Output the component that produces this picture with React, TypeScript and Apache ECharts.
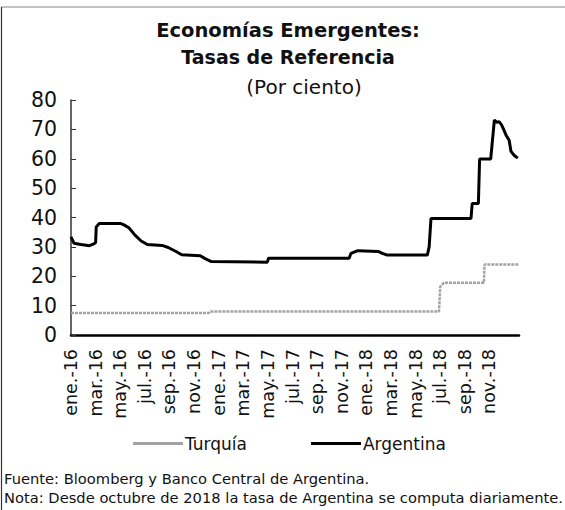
import React, { useEffect, useRef } from "react";
import * as echarts from "echarts";

// Month index: 0 = ene.-16, 1 = feb.-16, ...
const monthLabels = [
  "ene.-16", "mar.-16", "may.-16", "jul.-16", "sep.-16", "nov.-16",
  "ene.-17", "mar.-17", "may.-17", "jul.-17", "sep.-17", "nov.-17",
  "ene.-18", "mar.-18", "may.-18", "jul.-18", "sep.-18", "nov.-18",
];

const argentinaMonths = [
  0, 0.25, 0.8, 1.5, 1.85, 2.0, 2.05, 2.3, 4.0, 4.3, 4.7, 5.2, 5.7, 6.2, 7.4,
  7.9, 8.5, 9.0, 10.5, 10.9, 11.4, 15.95, 16.05, 22.6, 22.75, 23.3, 25.0, 25.3,
  25.7, 28.95, 29.1, 29.25, 32.5, 32.6, 33.1, 33.2, 34.1, 34.4, 34.6, 34.8,
  35.0, 35.15, 35.35, 35.6, 35.75, 36.0, 36.3,
];
const argentinaValues = [
  33.4, 31.2, 30.8, 30.4, 31.0, 31.5, 36.8, 38.0, 38.0, 37.5, 36.5, 34.0, 32.0,
  30.8, 30.5, 29.8, 28.5, 27.3, 27.0, 26.0, 25.0, 24.8, 26.1, 26.1, 27.8, 28.7,
  28.4, 27.8, 27.2, 27.2, 30.0, 39.7, 39.7, 44.8, 44.8, 59.9, 59.9, 73.2, 72.4,
  72.6, 71.4, 70.0, 68.0, 66.3, 62.5, 61.2, 60.2,
];

const turquiaMonths = [0, 11.2, 11.3, 29.9, 30.0, 30.3, 33.55, 33.6, 36.4];
const turquiaValues = [7.5, 7.5, 8.0, 8.0, 16.5, 17.75, 17.75, 24.0, 24.0];

const yTicks = [0, 10, 20, 30, 40, 50, 60, 70, 80];

const FONT = "DejaVu Sans";
const TUR_COLOR = "#a3a3a3";

export default function App() {
  const ref = useRef<HTMLDivElement>(null);

  useEffect(() => {
    if (!ref.current) return;
    const chart = echarts.init(ref.current, undefined, { renderer: "svg" });
    const arg = argentinaMonths.map((m, i) => [m, argentinaValues[i]]);
    const tur = turquiaMonths.map((m, i) => [m, turquiaValues[i]]);
    chart.setOption({
      animation: false,
      backgroundColor: "#ffffff",
      textStyle: { fontFamily: FONT },
      legend: {
        left: 128,
        top: 430,
        itemWidth: 50,
        itemHeight: 3,
        itemGap: 64,
        data: [
          { name: "Turquía", icon: "rect", itemStyle: { color: TUR_COLOR } },
          { name: "Argentina", icon: "rect", itemStyle: { color: "#000" } },
        ],
        textStyle: { fontFamily: FONT, fontSize: 17, color: "#111", padding: [0, 0, 0, -3] },
      },
      grid: { left: 71, right: 46, top: 100, bottom: 175, containLabel: false },
      xAxis: {
        type: "value",
        min: 0,
        max: 36.4,
        interval: 2,
        splitLine: { show: false },
        axisLine: { show: true, onZero: false, lineStyle: { color: "#000", width: 2.5 } },
        axisTick: { show: false },
        axisLabel: {
          rotate: 90,
          fontFamily: FONT,
          fontSize: 17.5,
          color: "#111",
          margin: 14,
          showMaxLabel: false,
          formatter: (v: number) => {
            const idx = Math.round(v / 2);
            return idx >= 0 && idx < monthLabels.length ? monthLabels[idx] : "";
          },
        },
      },
      yAxis: {
        type: "value",
        min: yTicks[0],
        max: yTicks[yTicks.length - 1],
        interval: 10,
        splitLine: { show: false },
        axisLine: { show: true, lineStyle: { color: "#333", width: 1.5 } },
        axisTick: { show: true, inside: true, length: 5, lineStyle: { color: "#333" } },
        axisLabel: { fontFamily: FONT, fontSize: 20.5, color: "#111", margin: 14 },
      },
      series: [
        {
          name: "Turquía",
          type: "line",
          data: tur,
          symbol: "none",
          lineStyle: { color: TUR_COLOR, width: 2.5, type: [3, 1] },
          itemStyle: { color: TUR_COLOR },
        },
        {
          name: "Argentina",
          type: "line",
          data: arg,
          symbol: "none",
          lineStyle: { color: "#000", width: 3 },
          itemStyle: { color: "#000" },
        },
      ],
      graphic: [
        {
          type: "line",
          shape: { x1: 1, y1: 7, x2: 565, y2: 7 },
          style: { stroke: "#888", lineWidth: 1 },
        },
        {
          type: "line",
          shape: { x1: 1.5, y1: 7, x2: 1.5, y2: 510 },
          style: { stroke: "#333", lineWidth: 1.2 },
        },
        {
          type: "text",
          x: 288,
          y: 30,
          style: {
            text: "Economías Emergentes:",
            font: `bold 19.5px "${FONT}"`,
            fill: "#111",
            align: "center",
            verticalAlign: "middle",
          },
        },
        {
          type: "text",
          x: 288,
          y: 57,
          style: {
            text: "Tasas de Referencia",
            font: `bold 19px "${FONT}"`,
            fill: "#111",
            align: "center",
            verticalAlign: "middle",
          },
        },
        {
          type: "text",
          x: 304,
          y: 87,
          style: {
            text: "(Por ciento)",
            font: `20px "${FONT}"`,
            fill: "#111",
            align: "center",
            verticalAlign: "middle",
          },
        },
        {
          type: "text",
          left: 4,
          top: 471,
          style: {
            text: "Fuente: Bloomberg y Banco Central de Argentina.",
            font: `14.7px "${FONT}"`,
            fill: "#111",
          },
        },
        {
          type: "text",
          left: 4,
          top: 490,
          style: {
            text: "Nota: Desde octubre de 2018 la tasa de Argentina se computa diariamente.",
            font: `14.7px "${FONT}"`,
            fill: "#111",
          },
        },
      ],
    });
    return () => chart.dispose();
  }, []);

  return (
    <div
      ref={ref}
      style={{ width: 565, height: 510, position: "fixed", left: 0, top: 0 }}
    />
  );
}
